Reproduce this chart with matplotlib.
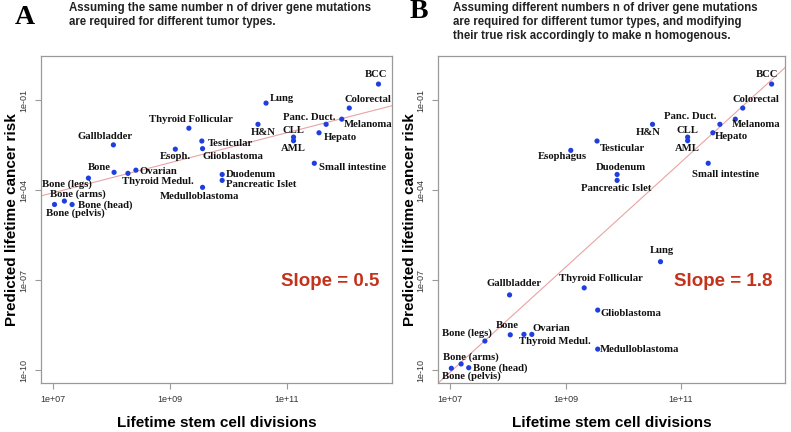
import numpy as np
import matplotlib
matplotlib.use('Agg')
import matplotlib.pyplot as plt

# tumour types, lifetime stem cell divisions and predicted risk
names_a = ['Bone (pelvis)', 'Bone (head)', 'Bone (arms)', 'Bone (legs)', 'Bone',
           'Gallbladder', 'Thyroid Medul.', 'Ovarian', 'Esoph.', 'Thyroid Follicular',
           'Testicular', 'Glioblastoma', 'Medulloblastoma', 'Duodenum', 'Pancreatic Islet',
           'H&N', 'Lung', 'CLL', 'AML', 'Small intestine', 'Hepato', 'Panc. Duct.',
           'Melanoma', 'Colorectal', 'BCC']
names_b = ['Bone (pelvis)', 'Bone (head)', 'Bone (arms)', 'Bone (legs)', 'Bone',
           'Gallbladder', 'Thyroid Medul.', 'Ovarian', 'Esophagus', 'Thyroid Follicular',
           'Testicular', 'Glioblastoma', 'Medulloblastoma', 'Duodenum', 'Pancreatic Islet',
           'H&N', 'Lung', 'CLL', 'AML', 'Small intestine', 'Hepato', 'Panc. Duct.',
           'Melanoma', 'Colorectal', 'BCC']
divisions = [1.05e7, 2.1e7, 1.55e7, 4.0e7, 1.1e8,
             1.07e8, 1.9e8, 2.6e8, 1.23e9, 2.1e9,
             3.5e9, 3.6e9, 3.6e9, 7.8e9, 7.8e9,
             3.2e10, 4.4e10, 1.3e11, 1.3e11, 2.95e11, 3.55e11, 4.7e11,
             8.7e11, 1.17e12, 3.7e12]
risk_a = [3.3e-5, 3.3e-5, 4.3e-5, 2.5e-4, 3.9e-4,
          3.2e-3, 3.6e-4, 4.6e-4, 2.3e-3, 1.15e-2,
          4.3e-3, 2.4e-3, 1.23e-4, 3.3e-4, 2.1e-4,
          1.55e-2, 7.9e-2, 5.8e-3, 4.4e-3, 7.8e-4, 8.1e-3, 1.55e-2,
          2.3e-2, 5.4e-2, 0.34]
risk_b = [1.15e-10, 1.2e-10, 1.6e-10, 9.3e-10, 1.5e-9,
          3.2e-8, 1.55e-9, 1.55e-9, 2.1e-3, 5.5e-8,
          4.3e-3, 1.0e-8, 5.0e-10, 3.3e-4, 2.1e-4,
          1.55e-2, 4.1e-7, 5.8e-3, 4.4e-3, 7.8e-4, 8.1e-3, 1.55e-2,
          2.3e-2, 5.4e-2, 0.34]
# fitted lines in log10 space: slope, intercept
fit_a = (0.5, -7.59)
fit_b = (1.75, -22.32)
slope_text_a = 'Slope = 0.5'
slope_text_b = 'Slope = 1.8'
xticks = [1e7, 1e9, 1e11]
xtick_labels = ['1e+07', '1e+09', '1e+11']
yticks = [1e-1, 1e-4, 1e-7, 1e-10]
ytick_labels = ['1e-01', '1e-04', '1e-07', '1e-10']

# label placement (ha, dx, dy in pixels, dy downward)
offsets_a = [('center', 21, 9), ('left', 6, 1), ('center', 13, -7), ('right', 3, 6),
             ('right', -3, -5), ('center', -8, -8), ('left', -6, 8), ('left', 4, 1),
             ('center', 0, 7), ('center', 2, -9), ('left', 6, 2), ('left', 0, 8),
             ('center', -3, 9), ('left', 4, 0), ('left', 4, 4), ('center', 5, 8),
             ('left', 4, -5), ('center', 0, -7), ('center', 0, 8), ('left', 5, 4),
             ('left', 5, 5), ('right', 9, -7), ('left', 2, 5), ('left', -5, -9),
             ('center', -3, -10)]
offsets_b = [('center', 20, 8), ('left', 4, 0), ('center', 10, -7), ('right', 7, -8),
             ('center', -3, -9), ('center', 4, -11), ('left', -5, 7), ('left', 1, -6),
             ('center', -8, 6), ('center', 17, -9), ('left', 3, 7), ('left', 3, 3),
             ('left', 2, 0), ('center', 4, -7), ('center', -1, 8), ('center', -4, 8),
             ('center', 1, -11), ('center', 0, -7), ('center', 0, 8), ('center', 17, 11),
             ('left', 2, 4), ('right', -3, -8), ('left', -4, 5), ('center', 13, -9),
             ('center', -5, -10)]

SANS = 'Liberation Sans'
SERIF = 'Liberation Serif'
GRAY = '#9a9a9a'
DOT = '#1f3ee0'
LINE = '#e9a3a3'
RED = '#c4321c'


def draw_panel(ax, names, x, y, fit, offsets, slope_text):
    ax.set_xscale('log')
    ax.set_yscale('log')
    ax.set_xlim(10 ** 6.79, 10 ** 12.8)
    ax.set_ylim(10 ** -10.43, 10 ** 0.467)

    lx = np.array([6.79, 12.8])
    ax.plot(10 ** lx, 10 ** (fit[0] * lx + fit[1]), color=LINE, lw=0.8, zorder=1)
    ax.scatter(x, y, s=14, color=DOT, edgecolors='none', zorder=3)

    for name, xi, yi, (ha, dx, dy) in zip(names, x, y, offsets):
        ax.annotate(name, (xi, yi), xytext=(dx, -dy), textcoords='offset pixels',
                    ha=ha, va='center', fontsize=7.7, fontweight='bold',
                    family=SERIF, color='#111111', zorder=4)

    ax.text(0.965, 0.31, slope_text, transform=ax.transAxes, ha='right', va='center',
            fontsize=13.5, fontweight='bold', family=SANS, color=RED)

    for sp in ax.spines.values():
        sp.set_color(GRAY)
        sp.set_linewidth(0.9)
    ax.minorticks_off()
    ax.set_xticks(xticks)
    ax.set_xticklabels(xtick_labels)
    ax.set_yticks(yticks)
    ax.set_yticklabels(ytick_labels, rotation=90, va='center')
    ax.tick_params(length=4, width=0.8, color=GRAY, labelsize=6.5,
                   labelcolor='#333333', pad=5)
    for lab in ax.get_xticklabels() + ax.get_yticklabels():
        lab.set_family(SANS)
    ax.set_xlabel('Lifetime stem cell divisions', fontsize=11, fontweight='bold',
                  family=SANS, va='center')
    ax.set_ylabel('Predicted lifetime cancer risk', fontsize=11, fontweight='bold',
                  family=SANS, va='center')
    ax.xaxis.set_label_coords(0.5, -0.122)
    ax.yaxis.set_label_coords(-0.082, 0.5)


fig = plt.figure(figsize=(7.91, 4.32), dpi=100)
ax1 = fig.add_axes([41 / 791, 1 - 383 / 432, 351 / 791, 327 / 432])
ax2 = fig.add_axes([438 / 791, 1 - 383 / 432, 347 / 791, 327 / 432])

draw_panel(ax1, names_a, divisions, risk_a, fit_a, offsets_a, slope_text_a)
draw_panel(ax2, names_b, divisions, risk_b, fit_b, offsets_b, slope_text_b)

fig.text(25 / 791, 1 - 17 / 432, 'A', fontsize=20, fontweight='bold', family=SERIF,
         ha='center', va='center')
fig.text(419 / 791, 1 - 12 / 432, 'B', fontsize=20, fontweight='bold', family=SERIF,
         ha='center', va='center')
fig.text(69 / 791, 1 - 2 / 432,
         'Assuming the same number n of driver gene mutations\n'
         'are required for different tumor types.',
         fontsize=8.3, fontweight='bold', family=SANS, ha='left', va='top',
         linespacing=1.25, color='#222222')
fig.text(453 / 791, 1 - 2 / 432,
         'Assuming different numbers n of driver gene mutations\n'
         'are required for different tumor types, and modifying\n'
         'their true risk accordingly to make n homogenous.',
         fontsize=8.3, fontweight='bold', family=SANS, ha='left', va='top',
         linespacing=1.25, color='#222222')

fig.savefig('out.png', dpi=100)
